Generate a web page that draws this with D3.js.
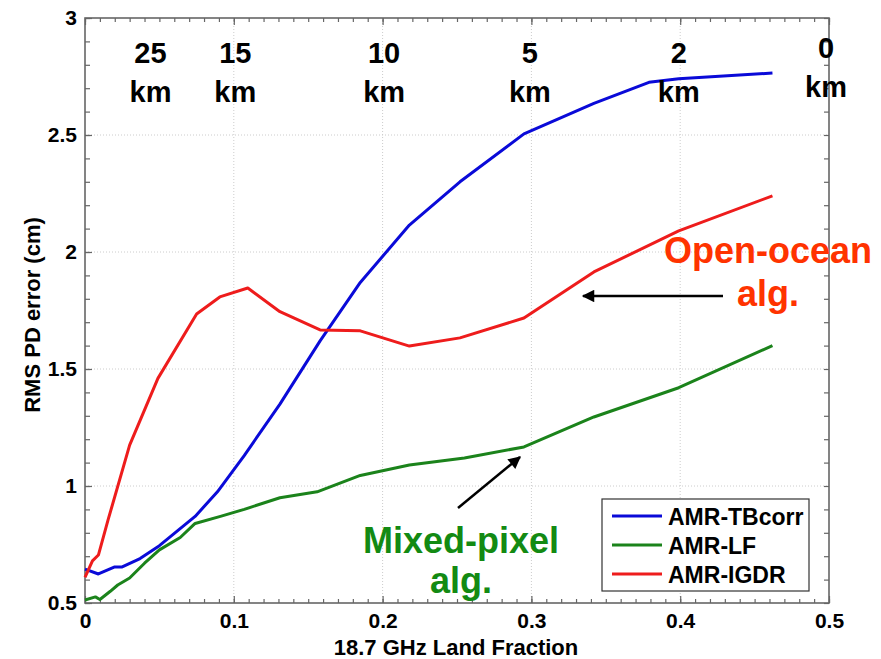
<!DOCTYPE html>
<html>
<head>
<meta charset="utf-8">
<script src="https://cdn.jsdelivr.net/npm/d3@7"></script>
<style>
  body { margin: 0; background: #fff; }
  text { font-family: "Liberation Sans", Arial, sans-serif; font-weight: bold; }
</style>
</head>
<body>
<div id="chart"></div>
<script>
// Land fraction (x) and RMS PD error in cm (y)
var tbcorrX = [0, 0.009, 0.02, 0.025, 0.037, 0.05, 0.074, 0.089, 0.107, 0.131, 0.158, 0.185, 0.218, 0.252, 0.295, 0.342, 0.379, 0.399, 0.462];
var tbcorrY = [0.645, 0.624, 0.654, 0.654, 0.69, 0.745, 0.87, 0.975, 1.13, 1.35, 1.62, 1.87, 2.115, 2.30, 2.505, 2.635, 2.725, 2.74, 2.765];

var lfX = [0, 0.007, 0.01, 0.017, 0.022, 0.030, 0.040, 0.050, 0.064, 0.074, 0.091, 0.107, 0.131, 0.156, 0.185, 0.218, 0.255, 0.295, 0.342, 0.399, 0.462];
var lfY = [0.513, 0.526, 0.515, 0.55, 0.577, 0.607, 0.67, 0.727, 0.78, 0.84, 0.87, 0.9, 0.95, 0.975, 1.045, 1.09, 1.12, 1.167, 1.295, 1.42, 1.60];

var igdrX = [0, 0.005, 0.009, 0.0155, 0.030, 0.049, 0.075, 0.0906, 0.1094, 0.131, 0.158, 0.185, 0.218, 0.252, 0.295, 0.342, 0.399, 0.462];
var igdrY = [0.61, 0.68, 0.705, 0.855, 1.175, 1.46, 1.735, 1.808, 1.846, 1.745, 1.667, 1.663, 1.598, 1.633, 1.718, 1.915, 2.09, 2.24];

var seriesNames = ["AMR-TBcorr", "AMR-LF", "AMR-IGDR"];
var seriesColors = ["#0a0ad8", "#1b831b", "#ee1c1c"];

// distance-to-coast labels along the top
var kmLabels = ["25", "15", "10", "5", "2", "0"];
var kmPos = [0.044, 0.101, 0.201, 0.299, 0.399, 0.498];

var xTicks = [0, 0.1, 0.2, 0.3, 0.4, 0.5];
var yTicks = [0.5, 1, 1.5, 2, 2.5, 3];

var width = 881, height = 659;
var margin = {left: 85, right: 52, top: 18, bottom: 56};

var svg = d3.select("#chart").append("svg")
    .attr("width", width)
    .attr("height", height);

var x = d3.scaleLinear().domain([0, 0.5]).range([margin.left, width - margin.right]);
var y = d3.scaleLinear().domain([0.5, 3]).range([height - margin.bottom, margin.top]);

// grid
svg.append("g").selectAll("line")
    .data(xTicks.slice(1, -1))
    .join("line")
    .attr("x1", d => x(d)).attr("x2", d => x(d))
    .attr("y1", y(0.5)).attr("y2", y(3))
    .attr("stroke", "#cccccc").attr("stroke-dasharray", "1,2");
svg.append("g").selectAll("line")
    .data(yTicks.slice(1, -1))
    .join("line")
    .attr("y1", d => y(d)).attr("y2", d => y(d))
    .attr("x1", x(0)).attr("x2", x(0.5))
    .attr("stroke", "#cccccc").attr("stroke-dasharray", "1,2");

// axes with inward ticks
var axisColor = "#666";
function styleAxis(g) {
    g.select(".domain").remove();
    g.selectAll("line").attr("stroke", axisColor).attr("stroke-width", 1.2);
    g.selectAll("text").attr("font-size", 21).attr("fill", "#000");
}

var xMinor = d3.range(0, 0.501, 0.01);
var yMinor = d3.range(0.5, 3.001, 0.1);

svg.append("g")
    .attr("transform", `translate(0,${y(0.5)})`)
    .call(d3.axisBottom(x).tickValues(xMinor).tickSize(-4).tickFormat(""))
    .call(styleAxis);
svg.append("g")
    .attr("transform", `translate(0,${y(0.5)})`)
    .call(d3.axisBottom(x).tickValues(xTicks).tickSize(-7).tickPadding(10).tickFormat(d3.format("")))
    .call(styleAxis);
svg.append("g")
    .attr("transform", `translate(0,${y(3)})`)
    .call(d3.axisTop(x).tickValues(xMinor).tickSize(-4).tickFormat(""))
    .call(styleAxis);
svg.append("g")
    .attr("transform", `translate(0,${y(3)})`)
    .call(d3.axisTop(x).tickValues(xTicks).tickSize(-7).tickFormat(""))
    .call(styleAxis);

svg.append("g")
    .attr("transform", `translate(${x(0)},0)`)
    .call(d3.axisLeft(y).tickValues(yMinor).tickSize(-5).tickFormat(""))
    .call(styleAxis);
svg.append("g")
    .attr("transform", `translate(${x(0)},0)`)
    .call(d3.axisLeft(y).tickValues(yTicks).tickSize(-7).tickPadding(8).tickFormat(d3.format("")))
    .call(styleAxis);
svg.append("g")
    .attr("transform", `translate(${x(0.5)},0)`)
    .call(d3.axisRight(y).tickValues(yMinor).tickSize(-5).tickFormat(""))
    .call(styleAxis);

// frame
svg.append("rect")
    .attr("x", x(0)).attr("y", y(3))
    .attr("width", x(0.5) - x(0)).attr("height", y(0.5) - y(3))
    .attr("fill", "none").attr("stroke", axisColor).attr("stroke-width", 1.6);

// axis titles
svg.append("text")
    .attr("x", 456).attr("y", 655)
    .attr("text-anchor", "middle").attr("font-size", 22)
    .text("18.7 GHz Land Fraction");
svg.append("text")
    .attr("transform", "translate(40,315) rotate(-90)")
    .attr("text-anchor", "middle").attr("font-size", 22)
    .text("RMS PD error (cm)");

// series lines
var line = d3.line().x(d => x(d[0])).y(d => y(d[1]));
var series = [d3.zip(tbcorrX, tbcorrY), d3.zip(lfX, lfY), d3.zip(igdrX, igdrY)];

svg.append("g").selectAll("path")
    .data(series)
    .join("path")
    .attr("d", line)
    .attr("fill", "none")
    .attr("stroke", (d, i) => seriesColors[i])
    .attr("stroke-width", 3)
    .attr("stroke-linejoin", "round");

// km labels
var km = svg.append("g").selectAll("g")
    .data(kmLabels)
    .join("g")
    .attr("transform", (d, i) => `translate(${x(kmPos[i])},${i == kmLabels.length - 1 ? -5 : 0})`);
km.append("text").attr("y", 63).attr("text-anchor", "middle").attr("font-size", 29).text(d => d);
km.append("text").attr("y", 102).attr("text-anchor", "middle").attr("font-size", 29).text("km");

// annotations
svg.append("defs").append("marker")
    .attr("id", "arrow")
    .attr("viewBox", "0 0 10 10")
    .attr("refX", 9).attr("refY", 5)
    .attr("markerWidth", 6).attr("markerHeight", 5)
    .attr("markerUnits", "strokeWidth")
    .attr("orient", "auto")
    .append("path").attr("d", "M0,0L10,5L0,10z").attr("fill", "#000");

svg.append("line")
    .attr("x1", 723).attr("y1", 296).attr("x2", 583).attr("y2", 296)
    .attr("stroke", "#000").attr("stroke-width", 2.5)
    .attr("marker-end", "url(#arrow)");
svg.append("line")
    .attr("x1", 458).attr("y1", 508).attr("x2", 520).attr("y2", 457)
    .attr("stroke", "#000").attr("stroke-width", 2.5)
    .attr("marker-end", "url(#arrow)");

svg.append("text").attr("x", 768).attr("y", 263).attr("text-anchor", "middle")
    .attr("font-size", 36).attr("fill", "#ff3300").text("Open-ocean");
svg.append("text").attr("x", 768).attr("y", 306).attr("text-anchor", "middle")
    .attr("font-size", 36).attr("fill", "#ff3300").text("alg.");
svg.append("text").attr("x", 461).attr("y", 553).attr("text-anchor", "middle")
    .attr("font-size", 36).attr("fill", "#138a13").text("Mixed-pixel");
svg.append("text").attr("x", 461).attr("y", 593).attr("text-anchor", "middle")
    .attr("font-size", 36).attr("fill", "#138a13").text("alg.");

// legend
var legend = svg.append("g").attr("transform", "translate(602,499)");
legend.append("rect")
    .attr("width", 207).attr("height", 92)
    .attr("fill", "#fff").attr("stroke", "#333").attr("stroke-width", 1.2);
var item = legend.selectAll("g")
    .data(seriesNames)
    .join("g")
    .attr("transform", (d, i) => `translate(0,${17 + i * 29})`);
item.append("line")
    .attr("x1", 10).attr("x2", 60)
    .attr("stroke", (d, i) => seriesColors[i]).attr("stroke-width", 3);
item.append("text")
    .attr("x", 66).attr("y", 8.5)
    .attr("font-size", 23).text(d => d);
</script>
</body>
</html>
